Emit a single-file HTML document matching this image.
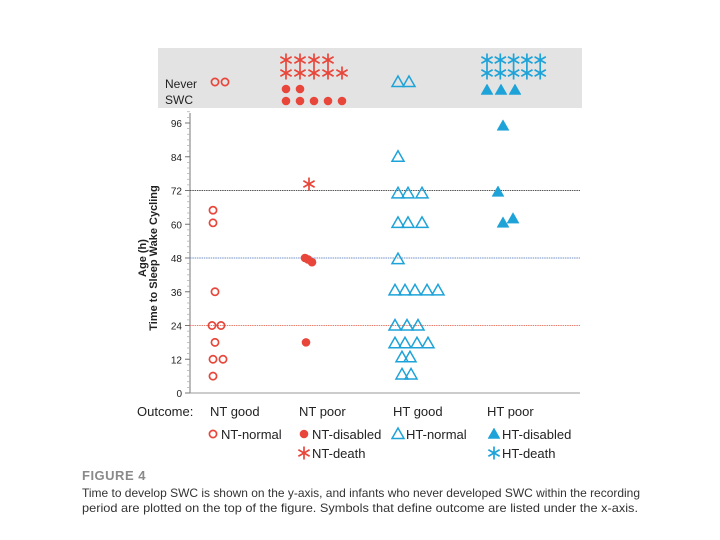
<!DOCTYPE html>
<html><head><meta charset="utf-8"><style>
body{margin:0;background:#fff;}
#wrap{position:relative;width:720px;height:540px;overflow:hidden;font-family:"Liberation Sans",sans-serif;}
svg text{font-family:"Liberation Sans",sans-serif;}
</style></head><body>
<div id="wrap">
<svg id="chart" width="720" height="540">
<rect x="158" y="48" width="424" height="60" fill="#e3e3e3"/>
<text x="165" y="88" font-size="12" fill="#222">Never</text>
<text x="165" y="104" font-size="12" fill="#222">SWC</text>
<g id="axis"></g>
<g id="reflines"></g>
<g id="marks"></g>
<g transform="translate(146,258) rotate(-90)">
<text x="0" y="0" text-anchor="middle" font-size="11" font-weight="bold" fill="#222">Age (h)</text>
<text x="0" y="11" text-anchor="middle" font-size="11" font-weight="bold" fill="#222">Time to Sleep Wake Cycling</text>
</g>
<g font-size="13" fill="#222">
<text x="137" y="416">Outcome:</text>
<text x="210" y="416">NT good</text>
<text x="299" y="416">NT poor</text>
<text x="393" y="416">HT good</text>
<text x="487" y="416">HT poor</text>
</g>
<g id="legend" font-size="13" fill="#222"></g>
<text x="82" y="480" font-size="13" font-weight="bold" fill="#8a8a8a" letter-spacing="0.5">FIGURE 4</text>
<text x="82" y="497" font-size="12" fill="#333" textLength="558" lengthAdjust="spacingAndGlyphs">Time to develop SWC is shown on the y-axis, and infants who never developed SWC within the recording</text>
<text x="82" y="512" font-size="12" fill="#333" textLength="556" lengthAdjust="spacingAndGlyphs">period are plotted on the top of the figure. Symbols that define outcome are listed under the x-axis.</text>
</svg>
</div>
<script>
const RED="#e8463a", BLUE="#1ea3d8";
const yTicks=[0,12,24,36,48,60,72,84,96];
const refValues=[72,48,24];
const refColors=["#555","#6f8fc8","#e8806f"];
// series: [x pixel column position, hours]
const ntNormalX=[213,213,215,212,221,215,213,223,213];
const ntNormalY=[65,60.5,36,24,24,18,12,12,6];
const ntDisabledX=[305,308,312,306];
const ntDisabledY=[48,47.5,46.5,18];
const ntDeathX=[309];
const ntDeathY=[74.3];
const htNormalX=[398,398,408,422,398,408,422,398,395,405,415,427,438,395,407,418,395,405,417,428,402,410,402,411];
const htNormalY=[84,71,71,71,60.5,60.5,60.5,47.6,36.5,36.5,36.5,36.5,36.5,24,24,24,17.7,17.7,17.7,17.7,12.7,12.7,6.6,6.6];
const htDisabledX=[503,498,503,513];
const htDisabledY=[95,71.5,60.5,62];
// never-SWC counts per row
const neverNtNormal=2, neverNtDeath=[4,5], neverNtDisabled=[2,5], neverHtNormal=2, neverHtDeath=[5,5], neverHtDisabled=3;

const NS="http://www.w3.org/2000/svg";
function y(v){return 393-v*(270/96);}
function mk(tag,attrs,parent){const e=document.createElementNS(NS,tag);for(const k in attrs)e.setAttribute(k,attrs[k]);parent.appendChild(e);return e;}
const axis=document.getElementById('axis'), refs=document.getElementById('reflines'), marks=document.getElementById('marks'), leg=document.getElementById('legend');
let a=mk('line',{x1:190,y1:113,x2:190,y2:393,stroke:'#777','stroke-width':1},axis);

a=mk('line',{x1:190,y1:393,x2:580,y2:393,stroke:'#999','stroke-width':1},axis);

for(let v=0;v<=100;v+=2){mk('line',{x1:187,x2:190,y1:y(v),y2:y(v),stroke:'#aaa','stroke-width':0.7},axis);}
yTicks.forEach(t=>{
 mk('line',{x1:185,x2:190,y1:y(t),y2:y(t),stroke:'#777'},axis);
 const tx=mk('text',{x:182,y:y(t)+4,'text-anchor':'end','font-size':10,fill:'#222'},axis);
 tx.textContent=t;
 
 
});
refValues.forEach((v,i)=>{
 const l=mk('line',{x1:190,x2:580,y1:y(v),y2:y(v),stroke:refColors[i],'stroke-width':1,'stroke-dasharray':'1.5 0.8'},refs);
 
 
});
function circ(cx,cy,fill,p){const e=mk('circle',{cx:cx,cy:cy,r:fill?4.3:3.6,fill:fill?RED:'none',stroke:RED,'stroke-width':fill?0:1.7},p);return e;}
function tri(cx,cy,fill,p){const s=6;const e=mk('polygon',{points:`${cx},${cy-s} ${cx-s},${cy+s*0.75} ${cx+s},${cy+s*0.75}`,fill:fill?BLUE:'none',stroke:BLUE,'stroke-width':fill?0.5:1.5,'stroke-linejoin':'miter'},p);return e;}
function star(cx,cy,col,p){const g=mk('g',{stroke:col,'stroke-width':1.7},p);const r=6.5;
 for(let k=0;k<3;k++){const ang=Math.PI/2+k*Math.PI/3;mk('line',{x1:cx-r*Math.cos(ang),y1:cy-r*Math.sin(ang),x2:cx+r*Math.cos(ang),y2:cy+r*Math.sin(ang)},g);}return g;}
ntNormalX.forEach((x,i)=>{const e=circ(x,y(ntNormalY[i]),false,marks);});
ntDisabledX.forEach((x,i)=>{const e=circ(x,y(ntDisabledY[i]),true,marks);});
ntDeathX.forEach((x,i)=>{const e=star(x,y(ntDeathY[i]),RED,marks);});
htNormalX.forEach((x,i)=>{const e=tri(x,y(htNormalY[i]),false,marks);});
htDisabledX.forEach((x,i)=>{const e=tri(x,y(htDisabledY[i]),true,marks);});
// never SWC band
for(let i=0;i<neverNtNormal;i++){const e=circ(215+i*10,82,false,marks);}
neverNtDeath.forEach((n,r)=>{for(let i=0;i<n;i++){const e=star(286+i*14,60+r*13,RED,marks);}});
neverNtDisabled.forEach((n,r)=>{for(let i=0;i<n;i++){const e=circ(286+i*14,89+r*12,true,marks);}});
for(let i=0;i<neverHtNormal;i++){const e=tri(398+i*11,82,false,marks);}
neverHtDeath.forEach((n,r)=>{for(let i=0;i<n;i++){const e=star(487+i*13.3,60+r*13,BLUE,marks);}});
for(let i=0;i<neverHtDisabled;i++){const e=tri(487+i*14,90,true,marks);}
// legend
const items=[["circle",213,434,"NT-normal"],["dot",304,434,"NT-disabled"],["star",304,453,"NT-death"],["tri",398,434,"HT-normal"],["ftri",494,434,"HT-disabled"],["bstar",494,453,"HT-death"]];
items.forEach(it=>{
 let e;
 if(it[0]=="circle")e=circ(it[1],it[2],false,leg);
 else if(it[0]=="dot")e=circ(it[1],it[2],true,leg);
 else if(it[0]=="star")e=star(it[1],it[2],RED,leg);
 else if(it[0]=="tri")e=tri(it[1],it[2],false,leg);
 else if(it[0]=="ftri")e=tri(it[1],it[2],true,leg);
 else e=star(it[1],it[2],BLUE,leg);
 
 
 const t=mk('text',{x:it[1]+8,y:it[2]+5,'font-size':13,fill:'#222'},leg);
 t.textContent=it[3];
 
 
});
</script>
</body></html>
